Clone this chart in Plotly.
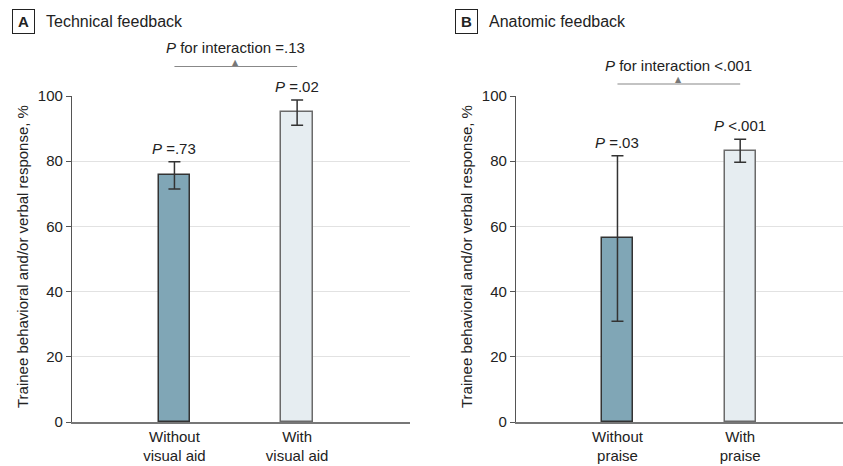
import plotly.graph_objects as go

# Data
cats_a = ["Without<br>visual aid", "With<br>visual aid"]
vals_a = [75.8, 95.0]
err_hi_a = [79.8, 98.8]
err_lo_a = [71.5, 91.0]
plabels_a = ["<i>P</i> =.73", "<i>P</i> =.02"]
interaction_a = "<i>P</i> for interaction =.13"

cats_b = ["Without<br>praise", "With<br>praise"]
vals_b = [56.3, 83.2]
err_hi_b = [81.7, 86.7]
err_lo_b = [30.9, 79.7]
plabels_b = ["<i>P</i> =.03", "<i>P</i> <.001"]
interaction_b = "<i>P</i> for interaction <.001"

ytitle = "Trainee behavioral and/or verbal response, %"
yticks = [0, 20, 40, 60, 80, 100]

FONT = "Liberation Sans, Arial, sans-serif"
DARK = "#80a6b6"
LIGHT = "#e6edf1"
TXT = "#222222"

W, H = 843, 466
fig = go.Figure()

panels = [
    ("x", "y", cats_a, vals_a, err_hi_a, err_lo_a, plabels_a, interaction_a),
    ("x2", "y2", cats_b, vals_b, err_hi_b, err_lo_b, plabels_b, interaction_b),
]

for xr, yr, cats, vals, hi, lo, plab, inter in panels:
    fig.add_trace(go.Bar(
        x=cats, y=vals, xaxis=xr, yaxis=yr, width=0.255,
        marker=dict(color=[DARK, LIGHT], line=dict(color=["#333333", "#6a6a6a"], width=1.5)),
        error_y=dict(type="data", symmetric=False,
                     array=[h - v for h, v in zip(hi, vals)],
                     arrayminus=[v - l for v, l in zip(vals, lo)],
                     color="#333333", thickness=1.5, width=6),
        showlegend=False, hoverinfo="skip",
    ))
    for c, h, t in zip(cats, hi, plab):
        fig.add_annotation(x=c, y=h, xref=xr, yref=yr, text=t, showarrow=False,
                           yanchor="bottom", yshift=3,
                           font=dict(family=FONT, size=15, color=TXT))

# interaction brackets
def bracket(xr, cats, ypix_line, ypix_text, text):
    yl = 1 - ypix_line / H
    fig.add_shape(type="line", xref=xr, yref="paper", x0=cats[0], x1=cats[1],
                  y0=yl, y1=yl, line=dict(color="#888888", width=1.2))
    fig.add_annotation(x=0.5, y=yl, xref=xr, yref="paper", text="▲", showarrow=False,
                       yanchor="bottom", yshift=-2,
                       font=dict(family="DejaVu Sans", size=8, color="#777777"))
    fig.add_annotation(x=0.5, y=1 - ypix_text / H, xref=xr, yref="paper", text=text,
                       showarrow=False, yanchor="middle",
                       font=dict(family=FONT, size=15, color=TXT))

bracket("x", cats_a, 66.5, 47, interaction_a)
bracket("x2", cats_b, 84, 66, interaction_b)

ydom = [1 - 422 / H, 1 - 96 / H]
axis_common = dict(showgrid=False, zeroline=False, showline=True, linecolor="#777777",
                   linewidth=1.5, ticks="", tickfont=dict(family=FONT, size=15, color=TXT),
                   fixedrange=True, automargin=False)
yaxis_common = dict(range=[0, 100], tickvals=yticks, showgrid=True, gridcolor="#e2e2e2",
                    gridwidth=1.2, zeroline=False, showline=True, linecolor="#555555",
                    linewidth=1.2, ticks="outside", ticklen=5, tickcolor="#555555",
                    tickfont=dict(family=FONT, size=15, color=TXT), domain=ydom,
                    automargin=False, fixedrange=True)

fig.update_layout(
    width=W, height=H, margin=dict(l=0, r=0, t=0, b=0, autoexpand=False),
    paper_bgcolor="white", plot_bgcolor="white", bargap=0,
    xaxis=dict(domain=[72 / W, 410 / W], range=[-0.835, 1.92], anchor="y", **axis_common),
    xaxis2=dict(domain=[516 / W, 1.0], range=[-0.827, 1.838], anchor="y2", **axis_common),
    yaxis=dict(anchor="x", **yaxis_common),
    yaxis2=dict(anchor="x2", **yaxis_common),
)

# y-axis titles
for xpix in (22, 466):
    fig.add_annotation(xref="paper", yref="paper", x=xpix / W, y=1 - 257 / H,
                       text=ytitle, textangle=-90, showarrow=False,
                       xanchor="center", yanchor="middle",
                       font=dict(family=FONT, size=15, color=TXT))

# panel titles
for xpix, letter, title in [(12, "A", "Technical feedback"), (455, "B", "Anatomic feedback")]:
    fig.add_annotation(xref="paper", yref="paper", x=xpix / W, y=1 - 9 / H,
                       xanchor="left", yanchor="top", text="<b>" + letter + "</b>",
                       showarrow=False, width=21, height=23, bordercolor="#222222",
                       borderwidth=1, borderpad=0,
                       font=dict(family=FONT, size=15, color=TXT))
    fig.add_annotation(xref="paper", yref="paper", x=(xpix + 32) / W, y=1 - 22 / H,
                       xanchor="left", yanchor="middle", text=title, showarrow=False,
                       font=dict(family=FONT, size=16, color=TXT))

fig.write_html("out.html", config={"displayModeBar": False},
               post_script="document.body.style.margin='0';")
